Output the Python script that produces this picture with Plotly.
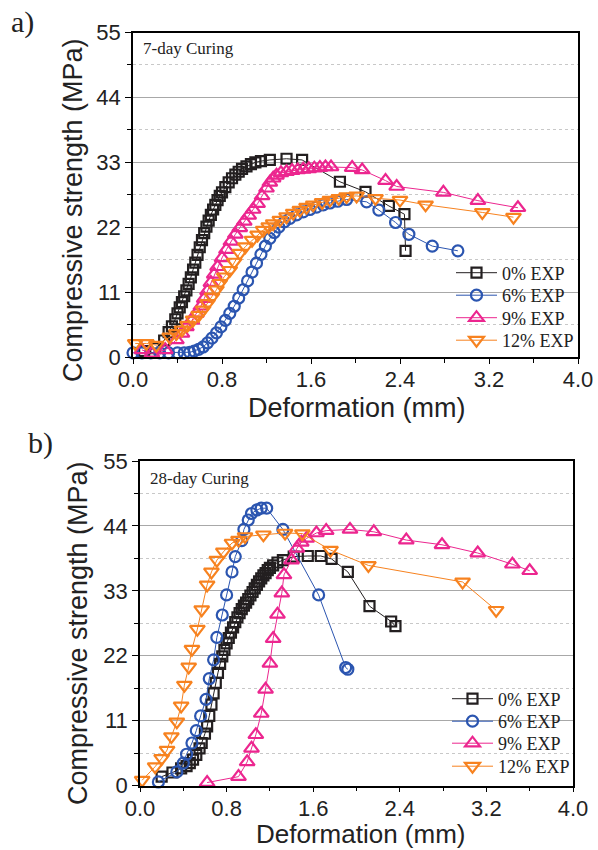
import plotly.graph_objects as go

W, H = 598, 850

# ---------------- data : panel a (7-day curing) ----------------
x0a = [0.10,0.20,0.28,0.32,0.35,0.38,0.40,0.42,0.44,0.46,0.48,0.50,0.52,0.54,0.56,0.58,0.60,0.62,0.64,0.66,0.68,0.70,0.72,0.74,0.76,0.78,0.80,0.83,0.86,0.89,0.92,0.95,0.98,1.02,1.06,1.10,1.15,1.23,1.38,1.52,1.86,2.09,2.30,2.44,2.45]
y0a = [1.0,1.5,2.8,4.2,5.2,6.4,7.4,8.4,9.3,10.3,11.3,12.4,13.5,14.8,16.0,17.3,18.6,19.8,21.0,22.1,23.1,24.1,25.0,25.8,26.6,27.3,27.9,28.8,29.6,30.3,30.9,31.4,31.9,32.3,32.7,33.0,33.2,33.4,33.6,33.4,29.7,28.0,25.6,24.2,18.0]

x6a = [0.00,0.08,0.16,0.24,0.32,0.40,0.46,0.51,0.55,0.59,0.63,0.67,0.71,0.75,0.79,0.83,0.87,0.91,0.95,0.99,1.03,1.07,1.11,1.15,1.19,1.23,1.27,1.31,1.36,1.41,1.47,1.53,1.59,1.65,1.71,1.77,1.84,1.92,2.10,2.21,2.36,2.48,2.69,2.92]
y6a = [0.7,0.7,0.7,0.7,0.7,0.7,0.7,0.8,1.0,1.3,1.7,2.4,3.2,4.1,5.1,6.2,7.4,8.6,10.0,11.4,12.9,14.4,15.9,17.4,18.8,20.1,21.1,22.0,22.9,23.5,24.1,24.6,25.0,25.4,25.8,26.1,26.4,26.7,26.3,24.9,22.8,20.8,18.8,18.0]

x9a = [0.08,0.17,0.29,0.39,0.44,0.48,0.53,0.57,0.61,0.64,0.67,0.70,0.73,0.76,0.80,0.84,0.88,0.92,0.96,1.00,1.04,1.08,1.12,1.16,1.20,1.23,1.26,1.29,1.33,1.38,1.43,1.48,1.53,1.58,1.63,1.68,1.73,1.78,1.97,2.06,2.27,2.37,2.79,3.10,3.46]
y9a = [1.2,0.6,1.2,2.9,4.0,5.1,6.2,7.4,8.6,9.9,11.2,12.6,14.0,15.3,16.8,18.2,19.6,20.8,21.9,23.0,24.0,25.0,26.0,27.3,28.6,29.6,30.3,30.8,31.2,31.4,31.6,31.7,31.8,31.9,32.0,32.1,32.2,32.2,32.1,31.7,29.9,28.9,27.9,26.5,25.3]

x12a = [0.02,0.12,0.21,0.33,0.39,0.44,0.49,0.54,0.59,0.63,0.67,0.71,0.75,0.78,0.82,0.87,0.91,0.96,1.01,1.07,1.12,1.17,1.22,1.26,1.32,1.38,1.44,1.50,1.56,1.62,1.70,1.77,1.85,1.92,2.01,2.18,2.40,2.63,3.14,3.42]
y12a = [2.3,2.3,2.0,3.4,4.0,4.6,5.4,6.3,7.1,8.0,9.1,10.2,11.4,12.5,13.6,14.7,16.1,17.6,18.7,19.8,20.7,21.5,22.1,22.6,23.2,23.8,24.4,24.9,25.4,25.8,26.2,26.6,26.9,27.2,27.3,26.9,26.6,25.8,24.5,23.7]

# ---------------- data : panel b (28-day curing) ----------------
x0b = [0.20,0.30,0.38,0.43,0.46,0.49,0.52,0.55,0.57,0.60,0.62,0.64,0.66,0.68,0.70,0.72,0.74,0.76,0.78,0.80,0.82,0.84,0.86,0.88,0.90,0.92,0.94,0.96,0.98,1.00,1.02,1.04,1.06,1.08,1.10,1.12,1.14,1.16,1.18,1.20,1.23,1.27,1.32,1.42,1.55,1.67,1.77,1.92,2.12,2.32,2.36]
y0b = [1.5,2.2,2.9,3.3,3.8,4.4,5.2,6.3,7.2,8.8,10.0,11.8,13.7,15.6,17.4,19.1,20.6,21.9,23.0,24.1,25.0,25.9,26.8,27.7,28.5,29.2,29.9,30.5,31.0,31.6,32.2,32.8,33.4,34.0,34.6,35.1,35.6,36.0,36.5,36.9,37.3,37.8,38.2,38.8,38.9,38.9,38.4,36.2,30.4,27.8,27.0]

x6b = [0.17,0.34,0.40,0.43,0.48,0.52,0.56,0.61,0.64,0.68,0.71,0.76,0.80,0.85,0.88,0.94,0.96,1.00,1.03,1.08,1.12,1.17,1.32,1.65,1.90,1.92]
y6b = [0.6,2.3,3.8,5.3,7.2,9.3,11.8,14.6,18.1,21.3,25.1,28.9,32.3,36.2,38.8,41.5,43.4,45.0,46.1,46.7,47.0,47.0,43.4,32.3,20.0,19.7]

x9b = [0.62,0.91,0.99,1.03,1.07,1.12,1.16,1.20,1.23,1.27,1.31,1.33,1.40,1.45,1.49,1.54,1.63,1.72,1.94,2.16,2.46,2.79,3.12,3.44,3.60]
y9b = [0.5,1.5,4.0,6.3,8.6,12.2,16.3,20.7,24.9,29.0,32.6,35.7,38.2,40.2,41.2,41.9,42.8,43.2,43.4,43.0,41.6,40.8,39.4,37.5,36.4]

x12b = [0.02,0.14,0.20,0.25,0.29,0.34,0.38,0.41,0.45,0.48,0.53,0.57,0.62,0.66,0.71,0.77,0.85,0.91,0.97,1.14,1.34,1.50,1.76,2.11,2.98,3.29]
y12b = [0.9,3.2,4.6,6.0,8.3,10.8,13.5,17.0,20.1,23.1,26.5,29.8,34.0,36.2,38.2,39.6,41.1,41.6,42.2,42.5,42.8,42.7,39.9,37.3,34.5,29.7]

series_names = ["0% EXP", "6% EXP", "9% EXP", "12% EXP"]
x_ticks = [0.0, 0.8, 1.6, 2.4, 3.2, 4.0]
y_ticks = [0, 11, 22, 33, 44, 55]

# ---------------- styles ----------------
colors = ["#231f20", "#2b55b0", "#ec268f", "#f7821f"]
symbols = ["square-open", "circle-open", "triangle-up-open", "triangle-down-open"]
msizes = [10, 11, 13, 13]

SANS = "Liberation Sans, Arial, sans-serif"
SERIF = "Liberation Serif, Times New Roman, serif"

def px_x(p):
    return p / W

def px_y(p):
    return 1 - p / H

# legend item placement (pixel centres) per panel
legend_left = [451, 447]
legend_rows = [[273, 295.5, 318, 340.5], [699, 721.5, 743.5, 766.5]]

fig = go.Figure()

panels = [
    ([(x0a, y0a), (x6a, y6a), (x9a, y9a), (x12a, y12a)], "x", "y"),
    ([(x0b, y0b), (x6b, y6b), (x9b, y9b), (x12b, y12b)], "x2", "y2"),
]
legend_layouts = {}
k = 0
for p, (data, xa, ya) in enumerate(panels):
    for i, (xs, ys) in enumerate(data):
        k += 1
        lname = "legend" if k == 1 else f"legend{k}"
        fig.add_trace(go.Scatter(
            x=xs, y=ys, mode="lines+markers", name=series_names[i],
            xaxis=xa, yaxis=ya, legend=lname, cliponaxis=False,
            line=dict(color=colors[i], width=1),
            marker=dict(symbol=symbols[i], size=msizes[i], color=colors[i],
                        line=dict(color=colors[i], width=2.2)),
        ))
        legend_layouts[lname] = dict(
            x=px_x(legend_left[p]), y=px_y(legend_rows[p][i]),
            xanchor="left", yanchor="middle", bgcolor="rgba(0,0,0,0)",
            orientation="h", entrywidth=74, entrywidthmode="pixels",
            font=dict(family=SERIF, size=18, color="#222"),
            itemwidth=41, borderwidth=0)

def xaxis_style(domain, anchor):
    return dict(domain=domain, anchor=anchor, range=[0, 4], tickvals=x_ticks,
                ticktext=[f"{v:.1f}" for v in x_ticks], automargin=False,
                ticks="outside", ticklen=5, tickwidth=1.2, tickcolor="black",
                ticklabelstandoff=-3,
                showline=True, linecolor="black", linewidth=1.5, mirror=True,
                showgrid=False, zeroline=False,
                tickfont=dict(family=SANS, size=22, color="#222"),
                minor=dict(dtick=0.4, tick0=0, ticks="outside", ticklen=4,
                           tickwidth=1, tickcolor="black", showgrid=False))

def yaxis_style(domain, anchor):
    return dict(domain=domain, anchor=anchor, range=[0, 55], tickvals=y_ticks,
                automargin=False,
                ticks="outside", ticklen=6, tickwidth=1.2, tickcolor="black",
                showline=True, linecolor="black", linewidth=1.5, mirror=True,
                showgrid=True, gridcolor="#a8a8a8", gridwidth=1.3, zeroline=False,
                tickfont=dict(family=SANS, size=22, color="#222"),
                minor=dict(dtick=5.5, tick0=0, ticks="outside", ticklen=4,
                           tickwidth=1, tickcolor="black", showgrid=True,
                           gridcolor="#c8c8c8", gridwidth=1, griddash="dot"))

fig.update_layout(
    width=W, height=H, autosize=False,
    margin=dict(l=0, r=0, t=0, b=0, pad=0, autoexpand=False),
    paper_bgcolor="white", plot_bgcolor="white",
    xaxis=xaxis_style([px_x(133), px_x(578)], "y"),
    yaxis=yaxis_style([px_y(357), px_y(32.5)], "x"),
    xaxis2=xaxis_style([px_x(140), px_x(573)], "y2"),
    yaxis2=yaxis_style([px_y(785.5), px_y(461)], "x2"),
    showlegend=True,
    **legend_layouts,
)

annos = [
    dict(text="a)", x=px_x(22), y=px_y(22), font=dict(family=SERIF, size=30, color="#222")),
    dict(text="b)", x=px_x(40), y=px_y(443), font=dict(family=SERIF, size=30, color="#222")),
    dict(text="7-day Curing", x=px_x(141), y=px_y(48), xanchor="left",
         font=dict(family=SERIF, size=17, color="#222")),
    dict(text="28-day Curing", x=px_x(148), y=px_y(478), xanchor="left",
         font=dict(family=SERIF, size=17, color="#222")),
    dict(text="Compressive strength (MPa)", x=px_x(73), y=px_y(210), textangle=-90,
         font=dict(family=SANS, size=27, color="#222")),
    dict(text="Compressive strength (MPa)", x=px_x(78), y=px_y(633), textangle=-90,
         font=dict(family=SANS, size=27, color="#222")),
    dict(text="Deformation (mm)", x=px_x(357), y=px_y(408),
         font=dict(family=SANS, size=27, color="#222")),
    dict(text="Deformation (mm)", x=px_x(360), y=px_y(834),
         font=dict(family=SANS, size=26, color="#222")),
]
for a in annos:
    a.setdefault("xanchor", "center")
    fig.add_annotation(xref="paper", yref="paper", yanchor="middle", showarrow=False, **a)

fig.write_html(
    "out.html",
    config={"displayModeBar": False},
    post_script="document.body.style.margin='0';document.body.style.overflow='hidden';",
)
